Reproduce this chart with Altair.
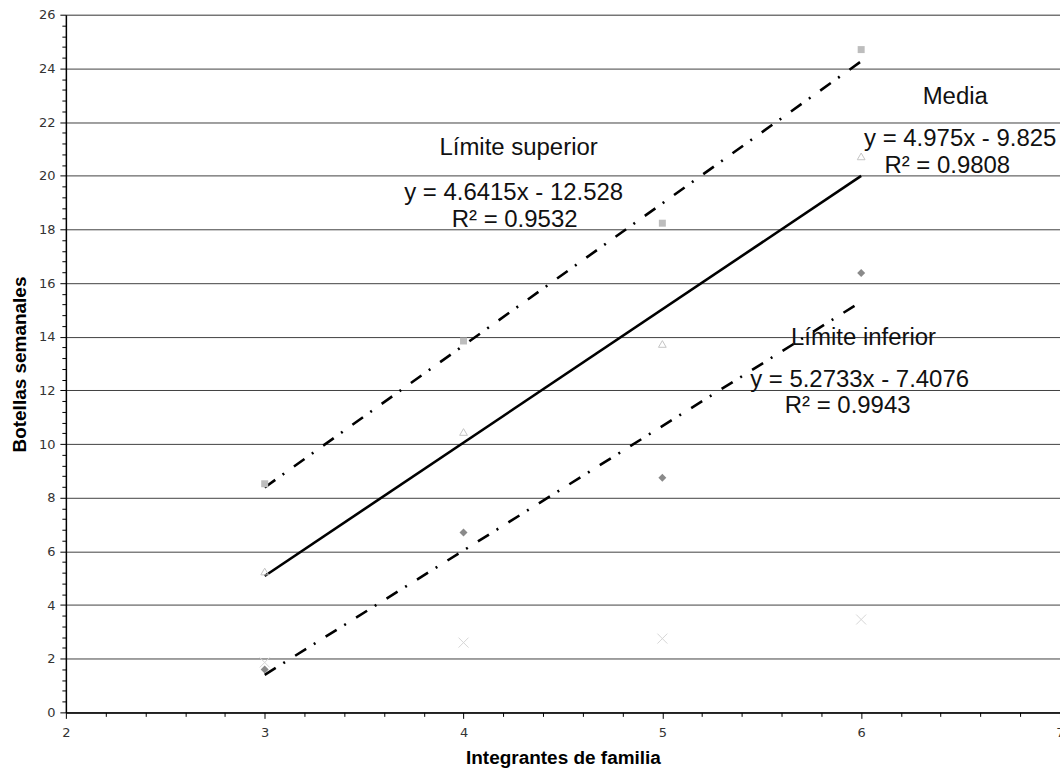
import altair as alt
import pandas as pd

# ---- data ----
x_vals = [3, 4, 5, 6]
sup_vals = [8.52, 13.84, 18.23, 24.70]     # squares
media_vals = [5.25, 10.45, 13.73, 20.72]   # open triangles
inf_vals = [1.60, 6.70, 8.74, 16.37]       # diamonds
otros_vals = [1.86, 2.60, 2.75, 3.46]      # crosses

series_names = ["Límite superior", "Media", "Límite inferior", "Otros"]

ann_texts = ["Límite superior", "y = 4.6415x - 12.528", "R² = 0.9532",
             "Media", "y = 4.975x - 9.825", "R² = 0.9808",
             "Límite inferior", "y = 5.2733x - 7.4076", "R² = 0.9943"]
ann_x = [4.277, 4.252, 4.257, 6.473, 6.498, 6.433, 6.012, 5.992, 5.932]
ann_y = [21.02, 19.35, 18.34, 22.92, 21.35, 20.35, 13.95, 12.39, 11.42]

x_ticks = [round(2 + 0.2 * k, 1) for k in range(26)]
y_ticks = [round(0.4 * k, 1) for k in range(66)]

rows = []
for name, vals in zip(series_names, [sup_vals, media_vals, inf_vals, otros_vals]):
    for xv, yv in zip(x_vals, vals):
        rows.append({"serie": name, "x": xv, "y": yv})
df = pd.DataFrame(rows)
ann = pd.DataFrame({"t": ann_texts, "x": ann_x, "y": ann_y})

x_major = "abs(datum.value - round(datum.value)) < 0.001"
y_major = "abs(datum.value - round(datum.value / 2) * 2) < 0.001"

xscale = alt.Scale(domain=[2, 7], nice=False, zero=False)
yscale = alt.Scale(domain=[0, 26], nice=False)

xaxis = alt.Axis(
    values=x_ticks, title="Integrantes de familia",
    labelExpr=f"{x_major} ? format(datum.value, 'd') : ''",
    labelOverlap=False,
    grid=False, domainColor="#000", domainWidth=1.5,
    tickColor="#000", tickWidth=1,
    tickSize={"condition": {"test": x_major, "value": 6}, "value": 4},
    labelFont="DejaVu Sans", labelFontSize=13, labelColor="#333",
    labelPadding=8, labelFlush=False,
    titleFont="Liberation Sans", titleFontSize=19, titleFontWeight="bold",
    titleColor="#000", titleX=498, titleY=45, titleBaseline="middle",
)
yaxis = alt.Axis(
    values=y_ticks, title="Botellas semanales",
    labelExpr=f"{y_major} ? format(datum.value, 'd') : ''",
    labelOverlap=False,
    grid=True, gridColor="#404040", gridWidth=1,
    gridOpacity={"condition": {"test": y_major, "value": 1}, "value": 0},
    domainColor="#000", domainWidth=1.5,
    tickColor="#000", tickWidth=1,
    tickSize={"condition": {"test": y_major, "value": 6}, "value": 4},
    labelFont="DejaVu Sans", labelFontSize=13, labelColor="#333",
    labelPadding=5, labelFlush=False,
    titleFont="Liberation Sans", titleFontSize=19, titleFontWeight="bold",
    titleColor="#000", titleX=-46, titleY=350, titleAngle=-90,
    titleBaseline="middle", titleAlign="center",
)

base = alt.Chart(df)
X = alt.X("x:Q", scale=xscale, axis=xaxis)
Y = alt.Y("y:Q", scale=yscale, axis=yaxis)

squares = base.transform_filter(alt.datum.serie == "Límite superior").mark_point(
    shape="square", filled=True, color="#bdbdbd", size=49, opacity=1
).encode(x=X, y=Y)
triangles = base.transform_filter(alt.datum.serie == "Media").mark_point(
    shape="triangle-up", filled=False, color="#c4c4c4", size=60, strokeWidth=1, opacity=1
).encode(x=X, y=Y)
diamonds = base.transform_filter(alt.datum.serie == "Límite inferior").mark_point(
    shape="diamond", filled=True, color="#8a8a8a", size=64, opacity=1
).encode(x=X, y=Y)
crosses = base.transform_filter(alt.datum.serie == "Otros").mark_point(
    shape="M-1,-1L1,1M-1,1L1,-1", filled=False, color="#d6d6d6", size=100,
    strokeWidth=1, opacity=1
).encode(x=X, y=Y)


def trend(name, dash):
    kw = dict(color="#000", strokeWidth=2.6)
    if dash:
        kw["strokeDash"] = [13, 9, 2, 12]
    return base.transform_filter(alt.datum.serie == name).transform_regression(
        "x", "y", extent=[3, 6]
    ).mark_line(**kw).encode(x=X, y=Y)


lines = [trend("Límite superior", True), trend("Media", False), trend("Límite inferior", True)]

labels = alt.Chart(ann).mark_text(
    font="Liberation Sans", fontSize=24, color="#111", align="center", baseline="middle"
).encode(x=X, y=Y, text="t:N")

chart = alt.layer(*lines, squares, triangles, diamonds, crosses, labels).properties(
    width=996, height=699,
    padding={"left": 66, "top": 14, "right": 0, "bottom": 56},
    autosize=alt.AutoSizeParams(type="none"),
).configure_view(stroke=None).configure(background="white")

chart.save("out.html", embed_options={"renderer": "svg", "actions": False})
